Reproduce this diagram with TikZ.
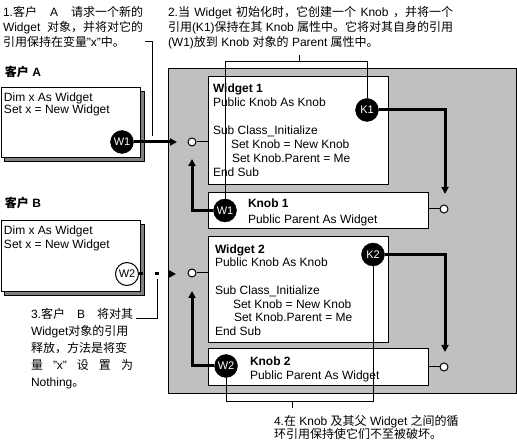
\documentclass[tikz,border=0pt]{standalone}
\usepackage{fontspec}
\setmainfont{Liberation Sans}
\newfontfamily\cjk{Noto Sans CJK SC}
\newcommand\zh[1]{{\cjk #1}}
\usetikzlibrary{arrows.meta}
\definecolor{panelgray}{RGB}{192,192,192}
\definecolor{shadowgray}{RGB}{128,128,128}
\newcommand\txtline[4][]{\node[txt,#1] (#2) at (#3) {#4};}
\tikzset{
  txt/.style={anchor=base west, inner sep=0pt, outer sep=0pt, font=\fontsize{12}{14}\selectfont},
  frame/.style={draw=black, fill=white, line width=1pt, anchor=north west, inner sep=0pt, outer sep=0pt},
  panel/.style={frame, fill=panelgray},
  shadowbox/.style={frame, fill=shadowgray},
  refdot/.style={circle, fill=black, draw=black, text=white, inner sep=0pt, minimum size=23pt, font=\fontsize{11}{11}\selectfont},
  openref/.style={refdot, fill=white, text=black, line width=1pt},
  port/.style={circle, draw=black, fill=white, line width=1pt, inner sep=0pt, minimum size=8pt},
  thickline/.style={line width=3pt},
  thickarrow/.style={line width=3pt, -{Triangle[length=7pt,width=7pt]}},
  callout/.style={line width=1pt},
}
\begin{document}
\begin{tikzpicture}[x=1pt, y=-1pt]
\useasboundingbox (0,0) rectangle (517,443);

% panel and boxes
\node[panel, minimum width=347.5pt, minimum height=325pt] (panel) at (168.5,69) {};
\node[frame, minimum width=180pt, minimum height=108pt] (w1box) at (208,77) {};
\node[frame, minimum width=220pt, minimum height=36pt] (kb1) at (208,193) {};
\node[frame, minimum width=180pt, minimum height=106pt] (w2box) at (208,237) {};
\node[frame, minimum width=220pt, minimum height=37pt] (kb2) at (208,349) {};

\node[shadowbox, minimum width=140pt, minimum height=70pt] (ashadow) at (4,92) {};
\node[frame, minimum width=139pt, minimum height=70pt] (abox) at (1,88) {};
\node[shadowbox, minimum width=140pt, minimum height=71pt] (bshadow) at (4,225) {};
\node[frame, minimum width=139pt, minimum height=71pt] (bbox) at (1,221) {};

% callout texts
\txtline{n1a}{3,16.5}{\makebox[140pt][s]{1.\zh{客户} A \zh{请求一个新的}}}
\txtline{n1b}{3,31.5}{\makebox[140pt][s]{Widget \zh{对象，并将对它的}}}
\txtline{n1c}{3,46.5}{\zh{引用保持在变量}"x"\zh{中。}}

\txtline{n2a}{168,16.5}{\makebox[285pt][s]{2.\zh{当} Widget \zh{初始化时，它创建一个} Knob \zh{，并将一个}}}
\txtline{n2b}{168,31.5}{\makebox[285pt][s]{\zh{引用}(K1)\zh{保持在其} Knob \zh{属性中。它将对其自身的引用}}}
\txtline{n2c}{168,46.5}{(W1)\zh{放到} Knob \zh{对象的} Parent \zh{属性中。}}

\txtline{n3a}{31,318.5}{\makebox[102pt][s]{3.\zh{客户} B \zh{将对其}}}
\txtline{n3b}{31,335.5}{Widget\zh{对象的引用}}
\txtline{n3c}{31,352.5}{\zh{释放，方法是将变}}
\txtline{n3d}{31,369.5}{\makebox[102pt][s]{\zh{量} "x" \zh{设} \zh{置} \zh{为}}}
\txtline{n3e}{31,386.5}{Nothing\zh{。}}

\txtline{n4a}{274,425.5}{4.\zh{在} Knob \zh{及其父} Widget \zh{之间的循}}
\txtline{n4b}{274,438.5}{\zh{环引用保持使它们不至被破坏。}}

% client labels
\txtline{cla}{5,77}{{\cjk\bfseries 客户} \textbf{A}}
\txtline{clb}{5,208}{{\cjk\bfseries 客户} \textbf{B}}

% client code
\txtline{a1}{4,101.5}{Dim x As Widget}
\txtline{a2}{4,114}{Set x = New Widget}
\txtline{b1t}{4,235}{Dim x As Widget}
\txtline{b2t}{4,249}{Set x = New Widget}

% widget 1
\txtline{w1l1}{213,92.5}{\textbf{Widget 1}}
\txtline{w1l2}{213,106.5}{Public Knob As Knob}
\txtline{w1l3}{213,134.5}{Sub Class\_Initialize}
\txtline{w1l4}{231,148.5}{Set Knob = New Knob}
\txtline{w1l5}{232,162.5}{Set Knob.Parent = Me}
\txtline{w1l6}{213,176.5}{End Sub}

% knob 1
\txtline{k1l1}{248,207.5}{\textbf{Knob 1}}
\txtline{k1l2}{248,223.5}{Public Parent As Widget}

% widget 2
\txtline{w2l1}{215,253.5}{\textbf{Widget 2}}
\txtline{w2l2}{215,267}{Public Knob As Knob}
\txtline{w2l3}{215,295}{Sub Class\_Initialize}
\txtline{w2l4}{233,308.5}{Set Knob = New Knob}
\txtline{w2l5}{234,322}{Set Knob.Parent = Me}
\txtline{w2l6}{215,335.5}{End Sub}

% knob 2
\txtline{k2l1}{250,366}{\textbf{Knob 2}}
\txtline{k2l2}{250,379.5}{Public Parent As Widget}

% reference circles
\node[refdot] (wa) at (122,142) {W1};
\node[openref] (wb) at (127,274) {W2};
\node[refdot] (k1) at (367,110) {K1};
\node[refdot] (w1k) at (225,210.5) {W1};
\node[refdot] (k2) at (373,254.5) {K2};
\node[refdot] (w2k) at (226,366) {W2};

% ports
\node[port] (p1) at (192,142) {};
\node[port] (p2) at (444,209) {};
\node[port] (p3) at (192,273) {};
\node[port] (p4) at (444,367) {};

\draw[callout] (p1.east) -- (p1.east -| w1box.west);
\draw[callout] (p2.west) -- (p2.west -| kb1.east);
\draw[callout] (p3.east) -- (p3.east -| w2box.west);
\draw[callout] (p4.west) -- (p4.west -| kb2.east);

% coordinates
\coordinate (ta) at (177,142);
\coordinate (t1) at (445,194);
\coordinate (t2) at (192,159);
\coordinate (t4) at (445,352);
\coordinate (t5) at (192,291);
\coordinate (bs1) at (143,274);
\coordinate (bs2) at (155,274);
\coordinate (bs3) at (159,274);
\coordinate (bs4) at (169,274);
\coordinate (bt) at (176,274);

% thick references
\draw[thickarrow] (wa.east) -- (ta);
\draw[thickarrow] (k1.east) -| (t1);
\draw[thickarrow] (w1k.west) -| (t2);
\draw[thickarrow] (k2.east) -| (t4);
\draw[thickarrow] (w2k.west) -| (t5);
\draw[thickline] (wb.east) -- (bs1);
\draw[thickline] (bs2) -- (bs3);
\draw[thickarrow] (bs4) -- (bt);

% callout lines
\coordinate (c1s) at (145,42);
\coordinate (c1e) at (152,136);
\draw[callout] (c1s) -| (c1e);

\coordinate (c2t) at (299,55);
\coordinate (c2j) at (299,62);
\draw[callout] (c2t) -- (c2j);
\draw[callout] (w1k.north) -- (w1k.north |- c2j) -- (k1.north |- c2j) -- (k1.north);

\coordinate (c3s) at (136,319);
\coordinate (c3e) at (157,279);
\draw[callout] (c3s) -| (c3e);

\coordinate (c4t) at (292,408);
\coordinate (c4j) at (292,402);
\draw[callout] (c4j) -- (c4t);
\draw[callout] (w2k.south) -- (w2k.south |- c4j) -- (k2.south |- c4j) -- (k2.south);
\end{tikzpicture}
\end{document}
